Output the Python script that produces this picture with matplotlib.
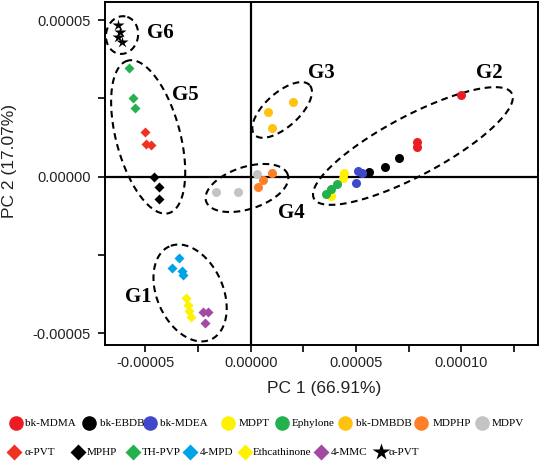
import numpy as np
import matplotlib
matplotlib.use("Agg")
import matplotlib.pyplot as plt
from matplotlib.ticker import MultipleLocator, FormatStrFormatter

# values, in units of 1e-5
circle_names = ["bk-MDMA", "bk-EBDB", "bk-MDEA", "MDPT", "Ephylone", "bk-DMBDB", "MDPHP", "MDPV"]
circle_colors = ["#ED1C24", "#000000", "#3F48CC", "#FFF200", "#22B14C", "#FFC20E", "#FF7F27", "#C3C3C3"]
circle_x = [[9.97, 7.88, 7.88], [7.06, 6.38, 5.62], [5.11, 5.27, 4.99], [4.43, 4.37, 3.81],
            [4.08, 3.81, 3.58], [2.02, 0.84, 1.00], [1.00, 0.57, 0.33], [-1.66, -0.59, 0.28]]
circle_y = [[2.61, 1.12, 0.96], [0.61, 0.30, 0.14], [0.19, 0.11, -0.21], [0.11, -0.05, -0.62],
            [-0.23, -0.39, -0.56], [2.39, 2.05, 1.54], [0.13, -0.105, -0.34], [-0.50, -0.50, 0.08]]

diamond_names = ["α-PVT", "MPHP", "TH-PVP", "4-MPD", "Ethcathinone", "4-MMC"]
diamond_colors = ["#EE3322", "#000000", "#22B14C", "#00A2E8", "#FFF200", "#A349A4"]
diamond_x = [[-5.02, -4.97, -4.73], [-4.59, -4.35, -4.35], [-5.78, -5.59, -5.49],
             [-3.41, -3.74, -3.27, -3.22], [-3.07, -2.98, -2.93, -2.83], [-2.28, -2.04, -2.17]]
diamond_y = [[1.43, 1.04, 1.01], [-0.01, -0.33, -0.71], [3.47, 2.51, 2.19],
             [-2.59, -2.91, -3.00, -3.13], [-3.87, -4.09, -4.29, -4.48], [-4.31, -4.31, -4.68]]

star_name = "α-PVT"
star_x = [-6.30, -6.21, -6.30, -6.11]
star_y = [4.84, 4.62, 4.46, 4.30]

# group ellipses: centre x, centre y, semi-axes (x units), angle
groups = ["G1", "G2", "G3", "G4", "G5", "G6"]
ell_cx = [-2.88, 7.70, 1.49, -0.18, -4.87, -6.11]
ell_cy = [-3.71, 0.98, 2.13, -0.36, 1.27, 4.52]
ell_a = [2.42, 5.32, 1.76, 2.04, 3.75, 0.90]
ell_b = [1.57, 1.42, 0.81, 1.00, 1.52, 0.76]
ell_ang = [114, 28, 42, 18, 105, 80]
label_x = [-5.35, 11.31, 3.34, 1.91, -3.12, -4.31]
label_y = [-3.84, 3.31, 3.31, -1.16, 2.61, 4.58]

sc = 1e-5
W, H = 548, 465
fig = plt.figure(figsize=(W / 100, H / 100), dpi=100)
pos = [105 / W, 1 - 345 / H, (538 - 105) / W, (345 - 2) / H]
ax = fig.add_axes(pos)
xlim = (-6.92 * sc, 13.64 * sc)
ylim = (-5.37 * sc, 5.575 * sc)
ax.set_xlim(*xlim)
ax.set_ylim(*ylim)

ax.axhline(0, color="black", lw=1.6, zorder=1)
ax.axvline(0, color="black", lw=1.6, zorder=1)

for xs, ys, c in zip(circle_x, circle_y, circle_colors):
    ax.plot(np.array(xs) * sc, np.array(ys) * sc, "o", color=c, ms=6.5, mec="none", zorder=3)
for xs, ys, c in zip(diamond_x, diamond_y, diamond_colors):
    ax.plot(np.array(xs) * sc, np.array(ys) * sc, "D", color=c, ms=5.3, mec="none", zorder=3)
ax.plot(np.array(star_x) * sc, np.array(star_y) * sc, "*", color="black", ms=9, mec="none", zorder=3)

# ratio of y pixel scale to x pixel scale so ellipses look right on screen
r = (pos[3] * H / (ylim[1] - ylim[0])) / (pos[2] * W / (xlim[1] - xlim[0]))
t = np.linspace(0, 2 * np.pi, 300)
for cx, cy, a, b, ang in zip(ell_cx, ell_cy, ell_a, ell_b, ell_ang):
    th = np.deg2rad(ang)
    u = a * np.cos(t)
    v = b * np.sin(t)
    ex = u * np.cos(th) - v * np.sin(th)
    ey = u * np.sin(th) + v * np.cos(th)
    ax.plot((cx + ex) * sc, cy * sc + ey * sc / r, color="black", lw=1.5,
            dashes=(3.2, 2.2), zorder=2)

for g, lx, ly in zip(groups, label_x, label_y):
    ax.text(lx * sc, ly * sc, g, fontsize=15, fontweight="bold", family="Liberation Serif",
            ha="center", va="center", zorder=4)

ax.xaxis.set_major_locator(MultipleLocator(5e-5))
ax.xaxis.set_minor_locator(MultipleLocator(2.5e-5))
ax.yaxis.set_major_locator(MultipleLocator(5e-5))
ax.yaxis.set_minor_locator(MultipleLocator(2.5e-5))
ax.xaxis.set_major_formatter(FormatStrFormatter("%.5f"))
ax.yaxis.set_major_formatter(FormatStrFormatter("%.5f"))
ax.tick_params(which="both", direction="out", length=5, width=1.2, labelsize=10.5, pad=3)
ax.tick_params(axis="y", pad=5)
for lab in ax.get_xticklabels() + ax.get_yticklabels():
    lab.set_family("Liberation Sans")
    lab.set_color("#222222")
for s in ax.spines.values():
    s.set_linewidth(1.4)
ax.set_xlabel("PC 1 (66.91%)", fontsize=12.5, family="Liberation Sans", color="#222222")
ax.set_ylabel("PC 2 (17.07%)", fontsize=12.5, family="Liberation Sans", color="#222222")
ax.xaxis.set_label_coords((324 - 105) / 433, -(381 - 345) / 343)
ax.yaxis.set_label_coords((17 - 105) / 433, (345 - 161) / 343)

# legend drawn by hand in pixel coordinates
lax = fig.add_axes([0, 0, 1, 1], zorder=-1)
lax.set_xlim(0, W)
lax.set_ylim(H, 0)
lax.axis("off")
row1_mx = [16, 89, 150, 228, 282, 345, 421, 482]
row1_tx = [25, 100, 160, 239, 292, 356, 433, 492]
row2_mx = [14, 78, 133, 190, 245, 321, 381]
row2_tx = [25, 87, 142, 200, 253, 331, 389]
for name, c, mx, tx in zip(circle_names, circle_colors, row1_mx, row1_tx):
    lax.plot(mx, 423, "o", color=c, ms=10.5, mec="none", clip_on=False)
    lax.text(tx, 423, name, fontsize=8, family="Liberation Serif", va="center", ha="left")
for name, c, mx, tx in zip(diamond_names, diamond_colors, row2_mx[:6], row2_tx[:6]):
    lax.plot(mx, 452, "D", color=c, ms=8.5, mec="none", clip_on=False)
    lax.text(tx, 452, name, fontsize=8, family="Liberation Serif", va="center", ha="left")
lax.plot(row2_mx[6], 452, "*", color="black", ms=13, mec="none", clip_on=False)
lax.text(row2_tx[6], 452, star_name, fontsize=8, family="Liberation Serif", va="center", ha="left")

fig.savefig("out.png", dpi=100)
